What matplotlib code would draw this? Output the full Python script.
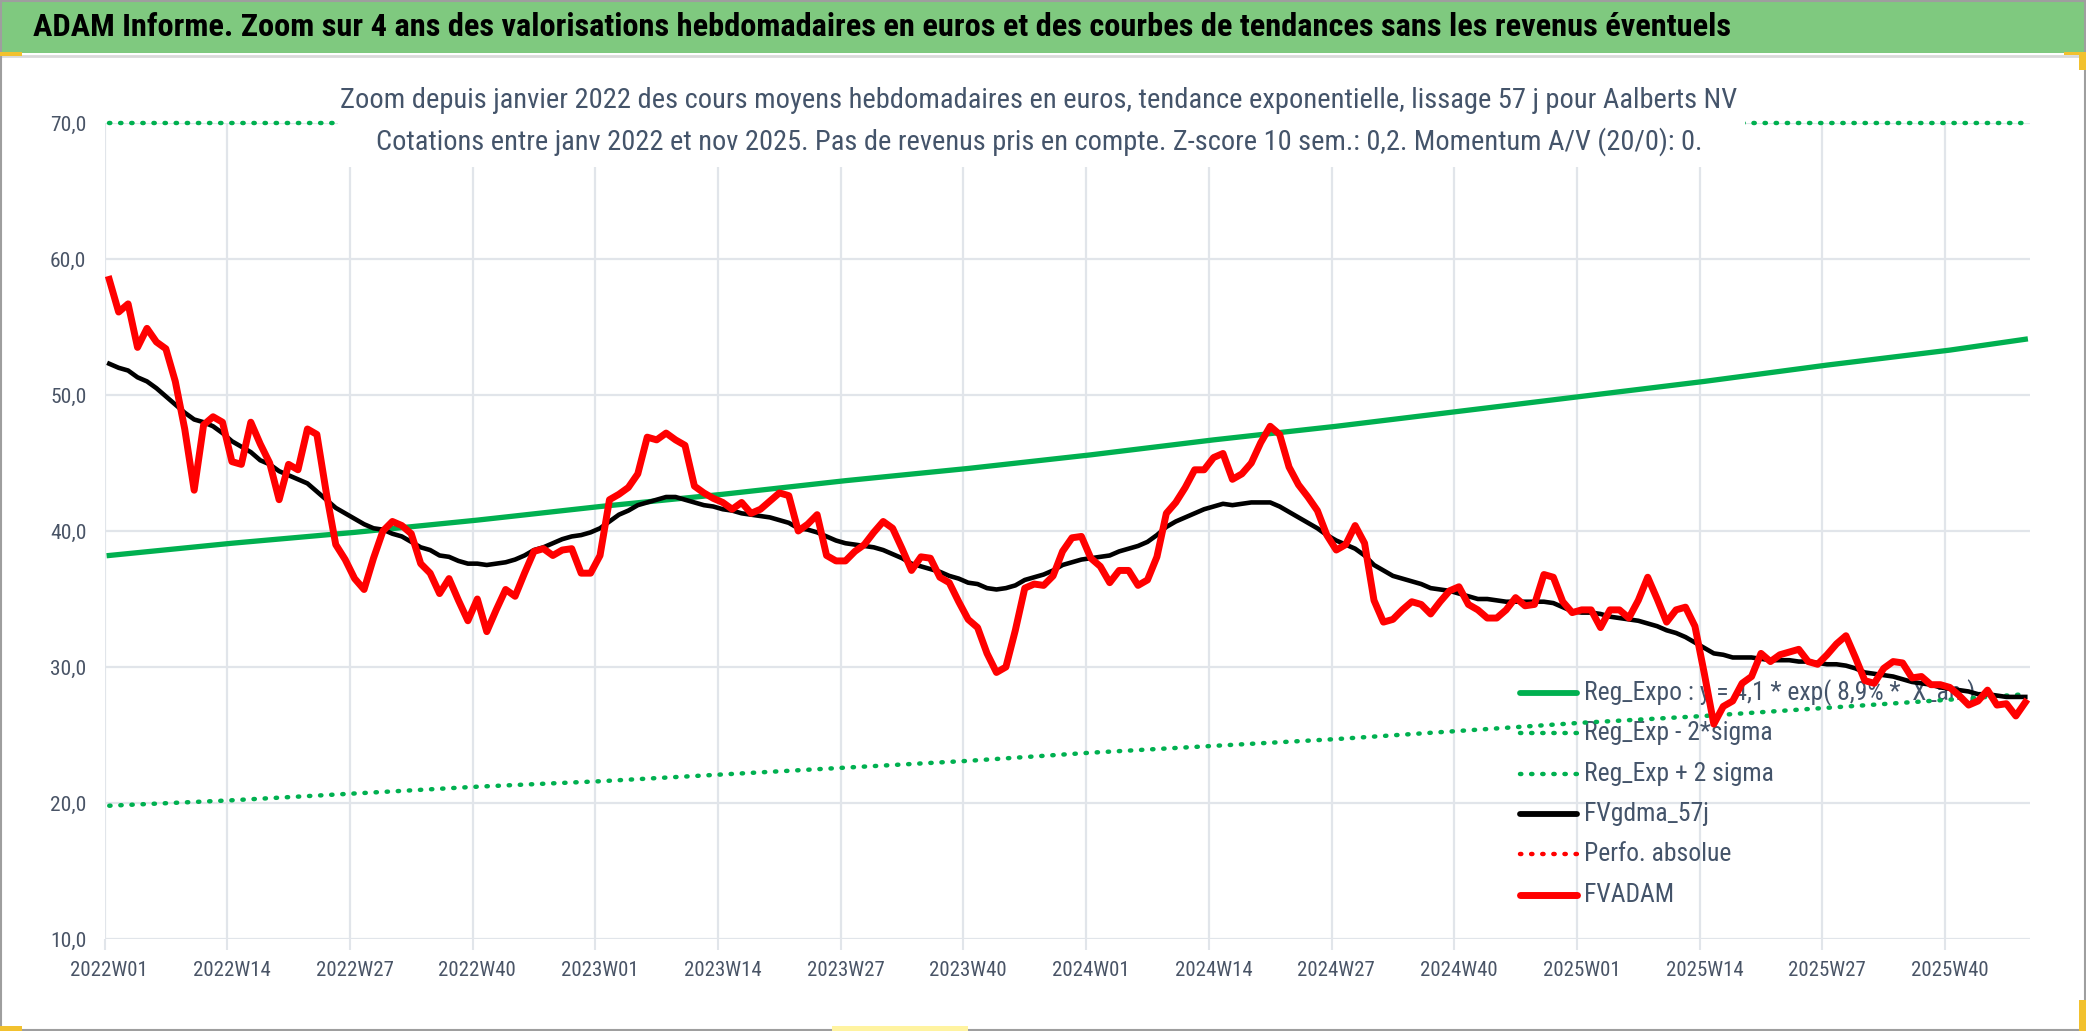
import matplotlib
matplotlib.use("Agg")
import matplotlib.pyplot as plt
from matplotlib.patches import Rectangle
from matplotlib.lines import Line2D
import numpy as np

plt.rcParams['font.family'] = ['Roboto Condensed', 'Liberation Sans Narrow',
                               'Liberation Sans', 'DejaVu Sans']

# weekly averages, 2022W01 .. 2025W48
fvadam = [
    58.5, 56.1, 56.7, 53.5, 54.9, 53.9, 53.4, 51.0, 47.5, 43.0,
    47.8, 48.4, 48.0, 45.1, 44.9, 48.0, 46.4, 45.0, 42.3, 44.9,
    44.5, 47.5, 47.1, 42.8, 39.0, 37.9, 36.5, 35.7, 38.0, 40.0,
    40.7, 40.4, 39.8, 37.6, 36.9, 35.4, 36.5, 34.9, 33.4, 35.0,
    32.6, 34.2, 35.7, 35.2, 36.9, 38.5, 38.7, 38.2, 38.6, 38.7,
    36.9, 36.9, 38.2, 42.3, 42.7, 43.2, 44.2, 46.9, 46.7, 47.2,
    46.7, 46.3, 43.3, 42.8, 42.4, 42.1, 41.6, 42.1, 41.3, 41.6,
    42.2, 42.8, 42.6, 40.0, 40.5, 41.2, 38.2, 37.8, 37.8, 38.5,
    39.0, 39.9, 40.7, 40.2, 38.7, 37.1, 38.1, 38.0, 36.6, 36.2,
    34.8, 33.5, 32.9, 31.0, 29.6, 30.0, 32.7, 35.8, 36.1, 36.0,
    36.7, 38.5, 39.5, 39.6, 38.0, 37.4, 36.2, 37.1, 37.1, 36.0,
    36.4, 38.1, 41.3, 42.1, 43.2, 44.5, 44.5, 45.4, 45.7, 43.8,
    44.2, 45.0, 46.5, 47.7, 47.1, 44.7, 43.4, 42.5, 41.5, 39.7,
    38.6, 39.0, 40.4, 39.1, 34.9, 33.3, 33.5, 34.2, 34.8, 34.6,
    33.9, 34.8, 35.6, 35.9, 34.6, 34.2, 33.6, 33.6, 34.2, 35.1,
    34.5, 34.6, 36.8, 36.6, 34.8, 34.0, 34.2, 34.2, 32.9, 34.2,
    34.2, 33.6, 34.9, 36.6, 35.0, 33.3, 34.2, 34.4, 33.0, 29.5,
    25.8, 27.1, 27.5, 28.8, 29.3, 31.0, 30.4, 30.9, 31.1, 31.3,
    30.4, 30.2, 30.9, 31.7, 32.3, 30.7, 29.0, 28.8, 29.9, 30.4,
    30.3, 29.2, 29.3, 28.7, 28.7, 28.5, 27.9, 27.2, 27.5, 28.3,
    27.2, 27.3, 26.4, 27.4]

fvgdma_57j = [
    52.3, 52.0, 51.8, 51.3, 51.0, 50.5, 49.9, 49.3, 48.7, 48.2,
    48.0, 47.7, 47.2, 46.6, 46.2, 45.8, 45.2, 44.9, 44.4, 44.1,
    43.8, 43.5, 42.9, 42.3, 41.7, 41.3, 40.9, 40.5, 40.2, 40.1,
    39.8, 39.6, 39.2, 38.8, 38.6, 38.2, 38.1, 37.8, 37.6, 37.6,
    37.5, 37.6, 37.7, 37.9, 38.2, 38.6, 38.8, 39.1, 39.4, 39.6,
    39.7, 39.9, 40.2, 40.7, 41.2, 41.5, 41.9, 42.1, 42.3, 42.5,
    42.5, 42.3, 42.1, 41.9, 41.8, 41.6, 41.5, 41.3, 41.2, 41.1,
    41.0, 40.8, 40.6, 40.2, 40.1, 39.9, 39.6, 39.3, 39.1, 39.0,
    38.9, 38.8, 38.6, 38.3, 38.0, 37.6, 37.4, 37.2, 37.0, 36.7,
    36.5, 36.2, 36.1, 35.8, 35.7, 35.8, 36.0, 36.4, 36.6, 36.8,
    37.1, 37.5, 37.7, 37.9, 38.0, 38.1, 38.2, 38.5, 38.7, 38.9,
    39.2, 39.7, 40.3, 40.7, 41.0, 41.3, 41.6, 41.8, 42.0, 41.9,
    42.0, 42.1, 42.1, 42.1, 41.8, 41.4, 41.0, 40.6, 40.2, 39.7,
    39.3, 39.0, 38.7, 38.2, 37.5, 37.1, 36.7, 36.5, 36.3, 36.1,
    35.8, 35.7, 35.6, 35.4, 35.2, 35.0, 35.0, 34.9, 34.8, 34.8,
    34.8, 34.8, 34.8, 34.7, 34.4, 34.1, 34.0, 34.0, 33.9, 33.7,
    33.6, 33.5, 33.4, 33.2, 33.0, 32.7, 32.5, 32.2, 31.8, 31.4,
    31.0, 30.9, 30.7, 30.7, 30.7, 30.6, 30.5, 30.5, 30.5, 30.4,
    30.4, 30.3, 30.2, 30.2, 30.1, 29.9, 29.6, 29.5, 29.4, 29.3,
    29.1, 28.9, 28.8, 28.7, 28.5, 28.4, 28.3, 28.2, 28.0, 28.0,
    27.9, 27.8, 27.8, 27.8]

# trend curves read at every tick week and at the last week
trend_weeks = [0, 13, 26, 39, 52, 65, 78, 91, 104, 117, 130, 143, 156, 169, 182, 195, 203]
reg_expo = [38.2, 39.1, 39.9, 40.8, 41.8, 42.7, 43.7, 44.6, 45.6, 46.7,
            47.7, 48.8, 49.9, 51.0, 52.2, 53.3, 54.1]
reg_minus = [19.8, 20.2, 20.7, 21.2, 21.6, 22.1, 22.6, 23.1, 23.7, 24.2,
             24.7, 25.3, 25.9, 26.4, 27.0, 27.6, 28.0]
# upper band sits above the axis max and shows flat at 70
reg_plus = [70.0] * len(trend_weeks)

tick_labels = ['2022W01', '2022W14', '2022W27', '2022W40',
               '2023W01', '2023W14', '2023W27', '2023W40',
               '2024W01', '2024W14', '2024W27', '2024W40',
               '2025W01', '2025W14', '2025W27', '2025W40']
y_ticks = [10, 20, 30, 40, 50, 60, 70]

title = ('ADAM Informe. Zoom sur 4 ans des valorisations hebdomadaires en euros '
         'et des courbes de tendances sans les revenus éventuels')
sub1 = ('Zoom depuis janvier 2022 des cours moyens hebdomadaires en euros, '
        'tendance exponentielle, lissage 57 j pour Aalberts NV')
sub2 = ('Cotations entre janv 2022 et nov 2025. Pas de revenus pris en compte. '
        'Z-score 10 sem.: 0,2. Momentum A/V (20/0): 0.')
leg_labels = ['Reg_Expo : y = 4,1 * exp( 8,9% *  X_an )', 'Reg_Exp - 2*sigma',
              'Reg_Exp + 2 sigma', 'FVgdma_57j', 'Perfo. absolue', 'FVADAM']

W, H = 2086, 1031
fig = plt.figure(figsize=(W / 100, H / 100), dpi=100)
renderer = fig.canvas.get_renderer()


def fx(px):
    return px / W


def fy(py):
    return 1 - py / H


def size_for(s, width_px, weight='normal'):
    # font size giving the text the width measured on the reference
    t = fig.text(0, 0, s, fontsize=20, fontweight=weight)
    w = t.get_window_extent(renderer).width
    t.remove()
    return 20 * width_px / w


def box(x0, y0, x1, y1, color, z):
    fig.patches.append(Rectangle((fx(x0), fy(y1)), (x1 - x0) / W, (y1 - y0) / H,
                                 transform=fig.transFigure, facecolor=color,
                                 edgecolor='none', zorder=z))


slate = '#44546A'
tick_col = '#495466'
grey = '#E1E5EA'
green = '#00B050'
dots = (0, (0.3, 2.2))

# banner, frame and the little selection handles of the source
box(0, 0, W, 53, '#7FC97F', 0)
fig.lines.append(Line2D([0, 1], [fy(56), fy(56)], transform=fig.transFigure,
                        color='#D9D9D9', lw=2))
fig.patches.append(Rectangle((0.0005, 0.001), 0.999, 0.998, transform=fig.transFigure,
                             facecolor='none', edgecolor='#9E9E9E', lw=1.5, zorder=10))
for x0, y0, x1, y1, c in [(0, 52, 22, 56, '#F2C12E'), (2064, 52, 2086, 55, '#F2C12E'),
                          (2079, 52, 2086, 70, '#F2C12E'), (2079, 1000, 2086, 1031, '#F2C12E'),
                          (0, 1026, 22, 1031, '#F2C12E'), (832, 1026, 968, 1031, '#FFF3A0')]:
    box(x0, y0, x1, y1, c, 11)
fig.text(fx(33), fy(27), title, ha='left', va='center', color='black',
         fontsize=size_for(title, 1695, 'bold'), fontweight='bold')

ax = fig.add_axes([fx(104.5), fy(939), (2030 - 104.5) / W, (939 - 123) / H])
n = len(fvadam)
x = np.arange(n)

ax.set_xlim(-0.5, n - 0.5)
ax.set_ylim(10, 70)
ax.set_xticks(np.arange(-0.5, n, 13))
ax.set_xticklabels([])
ax.set_xticks(np.arange(0, 13 * len(tick_labels), 13), minor=True)
ax.set_xticklabels(tick_labels, minor=True)
ax.tick_params(axis='x', which='major', length=8, width=1.5, color=grey)
ax.tick_params(axis='x', which='minor', length=0, pad=16,
               labelsize=size_for('2022W01', 78), labelcolor=tick_col)
ax.set_yticks(y_ticks)
ax.set_yticklabels([f'{v:.1f}'.replace('.', ',') for v in y_ticks])
ax.tick_params(axis='y', length=0, pad=13,
               labelsize=size_for('70,0', 36), labelcolor=tick_col)
ax.grid(True, which='major', color=grey, lw=1.6)
ax.set_axisbelow(True)
for s in ax.spines.values():
    s.set_visible(False)

ax.plot(trend_weeks, reg_expo, color=green, lw=3.8, zorder=3, solid_joinstyle='round')
ax.plot(trend_weeks, reg_minus, color=green, lw=3.2, ls=dots,
        dash_capstyle='round', zorder=3)
ax.plot(trend_weeks, reg_plus, color=green, lw=3.2, ls=dots,
        dash_capstyle='round', zorder=3, clip_on=False)
ax.plot(x, fvgdma_57j, color='black', lw=3.3, zorder=4, solid_joinstyle='round')
ax.plot(x, fvadam, color='#FF0000', lw=5.0, zorder=5, solid_joinstyle='round')

# legend drawn under the series, as in the source chart
leg_styles = [dict(color=green, lw=4.2, ls='-'),
              dict(color=green, lw=3.2, ls=dots, dash_capstyle='round'),
              dict(color=green, lw=3.2, ls=dots, dash_capstyle='round'),
              dict(color='black', lw=4.2, ls='-'),
              dict(color='#FF0000', lw=3.2, ls=dots, dash_capstyle='round'),
              dict(color='#FF0000', lw=5.0, ls='-')]
leg_rows = [693, 733, 774, 814, 854, 895]
leg_size = size_for(leg_labels[0], 392)
for lab, st, yy in zip(leg_labels, leg_styles, leg_rows):
    ax.add_line(Line2D([fx(1520), fx(1577)], [fy(yy), fy(yy)], transform=fig.transFigure,
                       clip_on=False, zorder=2, solid_capstyle='round', **st))
    ax.text(fx(1584), fy(yy), lab, transform=fig.transFigure, ha='left', va='center',
            fontsize=leg_size, color=slate, zorder=2, clip_on=False)

# subtitle box hides the top band and gridlines behind it
box(338, 78, 1745, 167, 'white', 4)
fig.text(fx(1039), fy(100), sub1, ha='center', va='center', color=slate,
         fontsize=size_for(sub1, 1392), zorder=5)
fig.text(fx(1039.5), fy(142), sub2, ha='center', va='center', color=slate,
         fontsize=size_for(sub2, 1325), zorder=5)

fig.savefig('out.png', dpi=100)
